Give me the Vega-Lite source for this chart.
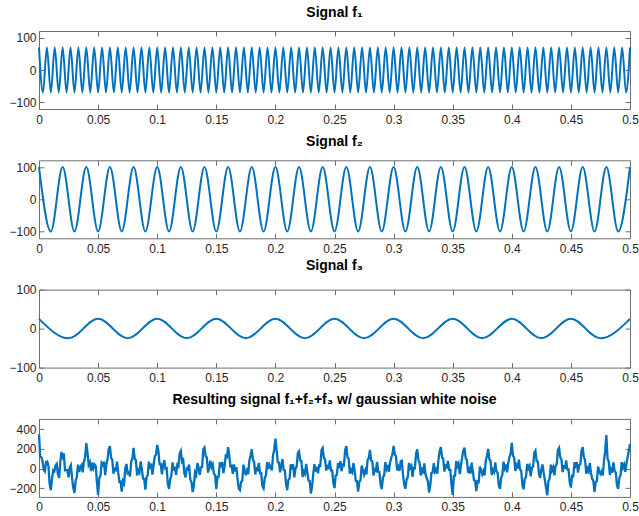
{
"$schema": "https://vega.github.io/schema/vega-lite/v6.json",
"padding": {"left": 8, "top": 5, "right": 2, "bottom": 5},
"bounds": "flush",
"spacing": 51.3,
"datasets": {
"f1": [{"t":0,"v":70},{"t":0.00333,"v":-70},{"t":0.00667,"v":70},{"t":0.01,"v":-70},{"t":0.01333,"v":70},{"t":0.01667,"v":-70},{"t":0.02,"v":70},{"t":0.02333,"v":-70},{"t":0.02667,"v":70},{"t":0.03,"v":-70},{"t":0.03333,"v":70},{"t":0.03667,"v":-70},{"t":0.04,"v":70},{"t":0.04333,"v":-70},{"t":0.04667,"v":70},{"t":0.05,"v":-70},{"t":0.05333,"v":70},{"t":0.05667,"v":-70},{"t":0.06,"v":70},{"t":0.06333,"v":-70},{"t":0.06667,"v":70},{"t":0.07,"v":-70},{"t":0.07333,"v":70},{"t":0.07667,"v":-70},{"t":0.08,"v":70},{"t":0.08333,"v":-70},{"t":0.08667,"v":70},{"t":0.09,"v":-70},{"t":0.09333,"v":70},{"t":0.09667,"v":-70},{"t":0.1,"v":70},{"t":0.10333,"v":-70},{"t":0.10667,"v":70},{"t":0.11,"v":-70},{"t":0.11333,"v":70},{"t":0.11667,"v":-70},{"t":0.12,"v":70},{"t":0.12333,"v":-70},{"t":0.12667,"v":70},{"t":0.13,"v":-70},{"t":0.13333,"v":70},{"t":0.13667,"v":-70},{"t":0.14,"v":70},{"t":0.14333,"v":-70},{"t":0.14667,"v":70},{"t":0.15,"v":-70},{"t":0.15333,"v":70},{"t":0.15667,"v":-70},{"t":0.16,"v":70},{"t":0.16333,"v":-70},{"t":0.16667,"v":70},{"t":0.17,"v":-70},{"t":0.17333,"v":70},{"t":0.17667,"v":-70},{"t":0.18,"v":70},{"t":0.18333,"v":-70},{"t":0.18667,"v":70},{"t":0.19,"v":-70},{"t":0.19333,"v":70},{"t":0.19667,"v":-70},{"t":0.2,"v":70},{"t":0.20333,"v":-70},{"t":0.20667,"v":70},{"t":0.21,"v":-70},{"t":0.21333,"v":70},{"t":0.21667,"v":-70},{"t":0.22,"v":70},{"t":0.22333,"v":-70},{"t":0.22667,"v":70},{"t":0.23,"v":-70},{"t":0.23333,"v":70},{"t":0.23667,"v":-70},{"t":0.24,"v":70},{"t":0.24333,"v":-70},{"t":0.24667,"v":70},{"t":0.25,"v":-70},{"t":0.25333,"v":70},{"t":0.25667,"v":-70},{"t":0.26,"v":70},{"t":0.26333,"v":-70},{"t":0.26667,"v":70},{"t":0.27,"v":-70},{"t":0.27333,"v":70},{"t":0.27667,"v":-70},{"t":0.28,"v":70},{"t":0.28333,"v":-70},{"t":0.28667,"v":70},{"t":0.29,"v":-70},{"t":0.29333,"v":70},{"t":0.29667,"v":-70},{"t":0.3,"v":70},{"t":0.30333,"v":-70},{"t":0.30667,"v":70},{"t":0.31,"v":-70},{"t":0.31333,"v":70},{"t":0.31667,"v":-70},{"t":0.32,"v":70},{"t":0.32333,"v":-70},{"t":0.32667,"v":70},{"t":0.33,"v":-70},{"t":0.33333,"v":70},{"t":0.33667,"v":-70},{"t":0.34,"v":70},{"t":0.34333,"v":-70},{"t":0.34667,"v":70},{"t":0.35,"v":-70},{"t":0.35333,"v":70},{"t":0.35667,"v":-70},{"t":0.36,"v":70},{"t":0.36333,"v":-70},{"t":0.36667,"v":70},{"t":0.37,"v":-70},{"t":0.37333,"v":70},{"t":0.37667,"v":-70},{"t":0.38,"v":70},{"t":0.38333,"v":-70},{"t":0.38667,"v":70},{"t":0.39,"v":-70},{"t":0.39333,"v":70},{"t":0.39667,"v":-70},{"t":0.4,"v":70},{"t":0.40333,"v":-70},{"t":0.40667,"v":70},{"t":0.41,"v":-70},{"t":0.41333,"v":70},{"t":0.41667,"v":-70},{"t":0.42,"v":70},{"t":0.42333,"v":-70},{"t":0.42667,"v":70},{"t":0.43,"v":-70},{"t":0.43333,"v":70},{"t":0.43667,"v":-70},{"t":0.44,"v":70},{"t":0.44333,"v":-70},{"t":0.44667,"v":70},{"t":0.45,"v":-70},{"t":0.45333,"v":70},{"t":0.45667,"v":-70},{"t":0.46,"v":70},{"t":0.46333,"v":-70},{"t":0.46667,"v":70},{"t":0.47,"v":-70},{"t":0.47333,"v":70},{"t":0.47667,"v":-70},{"t":0.48,"v":70},{"t":0.48333,"v":-70},{"t":0.48667,"v":70},{"t":0.49,"v":-70},{"t":0.49333,"v":70},{"t":0.49667,"v":-70},{"t":0.5,"v":70}],
"f2": [{"t":0,"v":100},{"t":0.01,"v":-100},{"t":0.02,"v":100},{"t":0.03,"v":-100},{"t":0.04,"v":100},{"t":0.05,"v":-100},{"t":0.06,"v":100},{"t":0.07,"v":-100},{"t":0.08,"v":100},{"t":0.09,"v":-100},{"t":0.1,"v":100},{"t":0.11,"v":-100},{"t":0.12,"v":100},{"t":0.13,"v":-100},{"t":0.14,"v":100},{"t":0.15,"v":-100},{"t":0.16,"v":100},{"t":0.17,"v":-100},{"t":0.18,"v":100},{"t":0.19,"v":-100},{"t":0.2,"v":100},{"t":0.21,"v":-100},{"t":0.22,"v":100},{"t":0.23,"v":-100},{"t":0.24,"v":100},{"t":0.25,"v":-100},{"t":0.26,"v":100},{"t":0.27,"v":-100},{"t":0.28,"v":100},{"t":0.29,"v":-100},{"t":0.3,"v":100},{"t":0.31,"v":-100},{"t":0.32,"v":100},{"t":0.33,"v":-100},{"t":0.34,"v":100},{"t":0.35,"v":-100},{"t":0.36,"v":100},{"t":0.37,"v":-100},{"t":0.38,"v":100},{"t":0.39,"v":-100},{"t":0.4,"v":100},{"t":0.41,"v":-100},{"t":0.42,"v":100},{"t":0.43,"v":-100},{"t":0.44,"v":100},{"t":0.45,"v":-100},{"t":0.46,"v":100},{"t":0.47,"v":-100},{"t":0.48,"v":100},{"t":0.49,"v":-100},{"t":0.5,"v":100}],
"f3": [{"t":0,"v":25},{"t":0.025,"v":-25},{"t":0.05,"v":25},{"t":0.075,"v":-25},{"t":0.1,"v":25},{"t":0.125,"v":-25},{"t":0.15,"v":25},{"t":0.175,"v":-25},{"t":0.2,"v":25},{"t":0.225,"v":-25},{"t":0.25,"v":25},{"t":0.275,"v":-25},{"t":0.3,"v":25},{"t":0.325,"v":-25},{"t":0.35,"v":25},{"t":0.375,"v":-25},{"t":0.4,"v":25},{"t":0.425,"v":-25},{"t":0.45,"v":25},{"t":0.475,"v":-25},{"t":0.5,"v":25}],
"f4": [{"t":0,"v":350},{"t":0.001,"v":121},{"t":0.002,"v":114},{"t":0.003,"v":75},{"t":0.004,"v":-14},{"t":0.005,"v":-30},{"t":0.006,"v":64},{"t":0.007,"v":69},{"t":0.008,"v":24},{"t":0.009,"v":-156},{"t":0.01,"v":-222},{"t":0.011,"v":-107},{"t":0.012,"v":-18},{"t":0.013,"v":-29},{"t":0.014,"v":31},{"t":0.015,"v":47},{"t":0.016,"v":-56},{"t":0.017,"v":-96},{"t":0.018,"v":58},{"t":0.019,"v":168},{"t":0.02,"v":120},{"t":0.021,"v":154},{"t":0.022,"v":-19},{"t":0.023,"v":-17},{"t":0.024,"v":-16},{"t":0.025,"v":-90},{"t":0.026,"v":11},{"t":0.027,"v":34},{"t":0.028,"v":-103},{"t":0.029,"v":-198},{"t":0.03,"v":-250},{"t":0.031,"v":-124},{"t":0.032,"v":-90},{"t":0.033,"v":39},{"t":0.034,"v":-35},{"t":0.035,"v":12},{"t":0.036,"v":35},{"t":0.037,"v":-39},{"t":0.038,"v":66},{"t":0.039,"v":116},{"t":0.04,"v":258},{"t":0.041,"v":167},{"t":0.042,"v":38},{"t":0.043,"v":63},{"t":0.044,"v":-28},{"t":0.045,"v":60},{"t":0.046,"v":3},{"t":0.047,"v":41},{"t":0.048,"v":25},{"t":0.049,"v":-141},{"t":0.05,"v":-270},{"t":0.051,"v":-96},{"t":0.052,"v":-75},{"t":0.053,"v":56},{"t":0.054,"v":38},{"t":0.055,"v":70},{"t":0.056,"v":-68},{"t":0.057,"v":43},{"t":0.058,"v":93},{"t":0.059,"v":197},{"t":0.06,"v":228},{"t":0.061,"v":111},{"t":0.062,"v":86},{"t":0.063,"v":-54},{"t":0.064,"v":10},{"t":0.065,"v":-28},{"t":0.066,"v":70},{"t":0.067,"v":-41},{"t":0.068,"v":-135},{"t":0.069,"v":-134},{"t":0.07,"v":-235},{"t":0.071,"v":-128},{"t":0.072,"v":-153},{"t":0.073,"v":-1},{"t":0.074,"v":46},{"t":0.075,"v":-50},{"t":0.076,"v":-41},{"t":0.077,"v":-82},{"t":0.078,"v":71},{"t":0.079,"v":99},{"t":0.08,"v":210},{"t":0.081,"v":98},{"t":0.082,"v":83},{"t":0.083,"v":-71},{"t":0.084,"v":-21},{"t":0.085,"v":-43},{"t":0.086,"v":71},{"t":0.087,"v":-4},{"t":0.088,"v":-103},{"t":0.089,"v":-107},{"t":0.09,"v":-217},{"t":0.091,"v":-91},{"t":0.092,"v":-66},{"t":0.093,"v":69},{"t":0.094,"v":14},{"t":0.095,"v":30},{"t":0.096,"v":-64},{"t":0.097,"v":45},{"t":0.098,"v":124},{"t":0.099,"v":141},{"t":0.1,"v":240},{"t":0.101,"v":181},{"t":0.102,"v":44},{"t":0.103,"v":45},{"t":0.104,"v":-59},{"t":0.105,"v":35},{"t":0.106,"v":84},{"t":0.107,"v":-1},{"t":0.108,"v":4},{"t":0.109,"v":-161},{"t":0.11,"v":-207},{"t":0.111,"v":-112},{"t":0.112,"v":-73},{"t":0.113,"v":61},{"t":0.114,"v":-19},{"t":0.115,"v":17},{"t":0.116,"v":-66},{"t":0.117,"v":39},{"t":0.118,"v":23},{"t":0.119,"v":153},{"t":0.12,"v":180},{"t":0.121,"v":69},{"t":0.122,"v":86},{"t":0.123,"v":-52},{"t":0.124,"v":-91},{"t":0.125,"v":0},{"t":0.126,"v":-9},{"t":0.127,"v":39},{"t":0.128,"v":-113},{"t":0.129,"v":-138},{"t":0.13,"v":-240},{"t":0.131,"v":-179},{"t":0.132,"v":-40},{"t":0.133,"v":-66},{"t":0.134,"v":55},{"t":0.135,"v":7},{"t":0.136,"v":-65},{"t":0.137,"v":11},{"t":0.138,"v":16},{"t":0.139,"v":196},{"t":0.14,"v":213},{"t":0.141,"v":122},{"t":0.142,"v":113},{"t":0.143,"v":-42},{"t":0.144,"v":12},{"t":0.145,"v":80},{"t":0.146,"v":13},{"t":0.147,"v":41},{"t":0.148,"v":-55},{"t":0.149,"v":-66},{"t":0.15,"v":-210},{"t":0.151,"v":-86},{"t":0.152,"v":-85},{"t":0.153,"v":61},{"t":0.154,"v":33},{"t":0.155,"v":65},{"t":0.156,"v":-48},{"t":0.157,"v":23},{"t":0.158,"v":128},{"t":0.159,"v":117},{"t":0.16,"v":218},{"t":0.161,"v":126},{"t":0.162,"v":21},{"t":0.163,"v":26},{"t":0.164,"v":-55},{"t":0.165,"v":42},{"t":0.166,"v":-30},{"t":0.167,"v":14},{"t":0.168,"v":-110},{"t":0.169,"v":-204},{"t":0.17,"v":-220},{"t":0.171,"v":-138},{"t":0.172,"v":-123},{"t":0.173,"v":39},{"t":0.174,"v":-19},{"t":0.175,"v":-70},{"t":0.176,"v":-21},{"t":0.177,"v":-57},{"t":0.178,"v":81},{"t":0.179,"v":134},{"t":0.18,"v":195},{"t":0.181,"v":88},{"t":0.182,"v":68},{"t":0.183,"v":-61},{"t":0.184,"v":14},{"t":0.185,"v":-28},{"t":0.186,"v":56},{"t":0.187,"v":-49},{"t":0.188,"v":-48},{"t":0.189,"v":-177},{"t":0.19,"v":-202},{"t":0.191,"v":-96},{"t":0.192,"v":-71},{"t":0.193,"v":64},{"t":0.194,"v":-6},{"t":0.195,"v":40},{"t":0.196,"v":11},{"t":0.197,"v":-20},{"t":0.198,"v":134},{"t":0.199,"v":191},{"t":0.2,"v":305},{"t":0.201,"v":191},{"t":0.202,"v":64},{"t":0.203,"v":60},{"t":0.204,"v":-39},{"t":0.205,"v":30},{"t":0.206,"v":94},{"t":0.207,"v":-16},{"t":0.208,"v":-21},{"t":0.209,"v":-156},{"t":0.21,"v":-222},{"t":0.211,"v":-117},{"t":0.212,"v":-103},{"t":0.213,"v":41},{"t":0.214,"v":11},{"t":0.215,"v":42},{"t":0.216,"v":-91},{"t":0.217,"v":-1},{"t":0.218,"v":18},{"t":0.219,"v":158},{"t":0.22,"v":175},{"t":0.221,"v":79},{"t":0.222,"v":76},{"t":0.223,"v":-87},{"t":0.224,"v":-31},{"t":0.225,"v":-55},{"t":0.226,"v":46},{"t":0.227,"v":-36},{"t":0.228,"v":-123},{"t":0.229,"v":-128},{"t":0.23,"v":-255},{"t":0.231,"v":-184},{"t":0.232,"v":-60},{"t":0.233,"v":44},{"t":0.234,"v":-30},{"t":0.235,"v":17},{"t":0.236,"v":-50},{"t":0.237,"v":31},{"t":0.238,"v":26},{"t":0.239,"v":186},{"t":0.24,"v":208},{"t":0.241,"v":107},{"t":0.242,"v":93},{"t":0.243,"v":-22},{"t":0.244,"v":37},{"t":0.245,"v":-5},{"t":0.246,"v":83},{"t":0.247,"v":-19},{"t":0.248,"v":-20},{"t":0.249,"v":-146},{"t":0.25,"v":-200},{"t":0.251,"v":-71},{"t":0.252,"v":-65},{"t":0.253,"v":56},{"t":0.254,"v":3},{"t":0.255,"v":75},{"t":0.256,"v":-28},{"t":0.257,"v":38},{"t":0.258,"v":33},{"t":0.259,"v":187},{"t":0.26,"v":228},{"t":0.261,"v":116},{"t":0.262,"v":96},{"t":0.263,"v":-54},{"t":0.264,"v":-15},{"t":0.265,"v":-38},{"t":0.266,"v":55},{"t":0.267,"v":-21},{"t":0.268,"v":-125},{"t":0.269,"v":-129},{"t":0.27,"v":-235},{"t":0.271,"v":-138},{"t":0.272,"v":-118},{"t":0.273,"v":29},{"t":0.274,"v":-19},{"t":0.275,"v":-65},{"t":0.276,"v":-21},{"t":0.277,"v":-62},{"t":0.278,"v":86},{"t":0.279,"v":104},{"t":0.28,"v":190},{"t":0.281,"v":83},{"t":0.282,"v":73},{"t":0.283,"v":-71},{"t":0.284,"v":-11},{"t":0.285,"v":-23},{"t":0.286,"v":66},{"t":0.287,"v":-34},{"t":0.288,"v":-38},{"t":0.289,"v":-162},{"t":0.29,"v":-212},{"t":0.291,"v":-91},{"t":0.292,"v":-71},{"t":0.293,"v":64},{"t":0.294,"v":-1},{"t":0.295,"v":35},{"t":0.296,"v":-34},{"t":0.297,"v":60},{"t":0.298,"v":109},{"t":0.299,"v":146},{"t":0.3,"v":230},{"t":0.301,"v":141},{"t":0.302,"v":124},{"t":0.303,"v":-20},{"t":0.304,"v":16},{"t":0.305,"v":-25},{"t":0.306,"v":74},{"t":0.307,"v":79},{"t":0.308,"v":-71},{"t":0.309,"v":-166},{"t":0.31,"v":-207},{"t":0.311,"v":-112},{"t":0.312,"v":-88},{"t":0.313,"v":56},{"t":0.314,"v":6},{"t":0.315,"v":27},{"t":0.316,"v":-86},{"t":0.317,"v":4},{"t":0.318,"v":3},{"t":0.319,"v":148},{"t":0.32,"v":195},{"t":0.321,"v":84},{"t":0.322,"v":56},{"t":0.323,"v":-72},{"t":0.324,"v":-16},{"t":0.325,"v":-50},{"t":0.326,"v":51},{"t":0.327,"v":-61},{"t":0.328,"v":-98},{"t":0.329,"v":-133},{"t":0.33,"v":-245},{"t":0.331,"v":-174},{"t":0.332,"v":-45},{"t":0.333,"v":-41},{"t":0.334,"v":55},{"t":0.335,"v":-33},{"t":0.336,"v":-10},{"t":0.337,"v":-54},{"t":0.338,"v":96},{"t":0.339,"v":181},{"t":0.34,"v":218},{"t":0.341,"v":112},{"t":0.342,"v":98},{"t":0.343,"v":-32},{"t":0.344,"v":42},{"t":0.345,"v":0},{"t":0.346,"v":78},{"t":0.347,"v":-14},{"t":0.348,"v":-15},{"t":0.349,"v":-171},{"t":0.35,"v":-270},{"t":0.351,"v":-76},{"t":0.352,"v":-75},{"t":0.353,"v":76},{"t":0.354,"v":23},{"t":0.355,"v":50},{"t":0.356,"v":-58},{"t":0.357,"v":28},{"t":0.358,"v":113},{"t":0.359,"v":182},{"t":0.36,"v":213},{"t":0.361,"v":101},{"t":0.362,"v":91},{"t":0.363,"v":-44},{"t":0.364,"v":-10},{"t":0.365,"v":-53},{"t":0.366,"v":60},{"t":0.367,"v":-26},{"t":0.368,"v":-120},{"t":0.369,"v":-124},{"t":0.37,"v":-230},{"t":0.371,"v":-133},{"t":0.372,"v":-138},{"t":0.373,"v":19},{"t":0.374,"v":-14},{"t":0.375,"v":-60},{"t":0.376,"v":-26},{"t":0.377,"v":-72},{"t":0.378,"v":81},{"t":0.379,"v":129},{"t":0.38,"v":200},{"t":0.381,"v":93},{"t":0.382,"v":78},{"t":0.383,"v":-66},{"t":0.384,"v":-16},{"t":0.385,"v":-38},{"t":0.386,"v":61},{"t":0.387,"v":-29},{"t":0.388,"v":-43},{"t":0.389,"v":-172},{"t":0.39,"v":-207},{"t":0.391,"v":-96},{"t":0.392,"v":-66},{"t":0.393,"v":69},{"t":0.394,"v":4},{"t":0.395,"v":40},{"t":0.396,"v":-39},{"t":0.397,"v":55},{"t":0.398,"v":114},{"t":0.399,"v":151},{"t":0.4,"v":260},{"t":0.401,"v":131},{"t":0.402,"v":109},{"t":0.403,"v":-25},{"t":0.404,"v":31},{"t":0.405,"v":0},{"t":0.406,"v":89},{"t":0.407,"v":-11},{"t":0.408,"v":-26},{"t":0.409,"v":-171},{"t":0.41,"v":-212},{"t":0.411,"v":-107},{"t":0.412,"v":-88},{"t":0.413,"v":46},{"t":0.414,"v":1},{"t":0.415,"v":27},{"t":0.416,"v":-81},{"t":0.417,"v":9},{"t":0.418,"v":18},{"t":0.419,"v":158},{"t":0.42,"v":180},{"t":0.421,"v":74},{"t":0.422,"v":71},{"t":0.423,"v":-57},{"t":0.424,"v":-96},{"t":0.425,"v":-5},{"t":0.426,"v":41},{"t":0.427,"v":-46},{"t":0.428,"v":-118},{"t":0.429,"v":-198},{"t":0.43,"v":-275},{"t":0.431,"v":-129},{"t":0.432,"v":-105},{"t":0.433,"v":39},{"t":0.434,"v":-20},{"t":0.435,"v":12},{"t":0.436,"v":-70},{"t":0.437,"v":26},{"t":0.438,"v":41},{"t":0.439,"v":186},{"t":0.44,"v":208},{"t":0.441,"v":112},{"t":0.442,"v":93},{"t":0.443,"v":-37},{"t":0.444,"v":32},{"t":0.445,"v":-5},{"t":0.446,"v":83},{"t":0.447,"v":-9},{"t":0.448,"v":-10},{"t":0.449,"v":-141},{"t":0.45,"v":-195},{"t":0.451,"v":-76},{"t":0.452,"v":-80},{"t":0.453,"v":61},{"t":0.454,"v":28},{"t":0.455,"v":65},{"t":0.456,"v":-43},{"t":0.457,"v":33},{"t":0.458,"v":43},{"t":0.459,"v":182},{"t":0.46,"v":218},{"t":0.461,"v":111},{"t":0.462,"v":86},{"t":0.463,"v":-54},{"t":0.464,"v":0},{"t":0.465,"v":-28},{"t":0.466,"v":55},{"t":0.467,"v":-46},{"t":0.468,"v":-105},{"t":0.469,"v":-129},{"t":0.47,"v":-240},{"t":0.471,"v":-138},{"t":0.472,"v":-128},{"t":0.473,"v":19},{"t":0.474,"v":-24},{"t":0.475,"v":-55},{"t":0.476,"v":-31},{"t":0.477,"v":-72},{"t":0.478,"v":86},{"t":0.479,"v":174},{"t":0.48,"v":340},{"t":0.481,"v":98},{"t":0.482,"v":73},{"t":0.483,"v":-66},{"t":0.484,"v":-11},{"t":0.485,"v":-43},{"t":0.486,"v":61},{"t":0.487,"v":-24},{"t":0.488,"v":-43},{"t":0.489,"v":-172},{"t":0.49,"v":-207},{"t":0.491,"v":-96},{"t":0.492,"v":-71},{"t":0.493,"v":64},{"t":0.494,"v":9},{"t":0.495,"v":40},{"t":0.496,"v":-34},{"t":0.497,"v":50},{"t":0.498,"v":114},{"t":0.499,"v":181},{"t":0.5,"v":250}]
},
"vconcat": [
{
"width": 591, "height": 78, "title": "Signal f₁", "data": {"name": "f1"},
"layer": [
{"mark": {"type": "line", "interpolate": "monotone"},
 "encoding": {
  "x": {"field": "t", "type": "quantitative", "scale": {"domain": [0, 0.5], "nice": false, "zero": false}, "axis": {"orient": "bottom", "values": [0,0.05,0.1,0.15,0.2,0.25,0.3,0.35,0.4,0.45,0.5], "format": "~g", "title": null}},
  "y": {"field": "v", "type": "quantitative", "scale": {"domain": [-121, 121], "nice": false, "zero": false}, "axis": {"orient": "left", "values": [-100,0,100], "title": null, "labelExpr": "replace(datum.label, '-', '−')"}}}},
{"mark": {"type": "line", "opacity": 0},
 "encoding": {
  "x": {"field": "t", "type": "quantitative", "axis": {"orient": "top", "values": [0,0.05,0.1,0.15,0.2,0.25,0.3,0.35,0.4,0.45,0.5], "labels": false, "title": null}},
  "y": {"field": "v", "type": "quantitative", "axis": {"orient": "right", "values": [-100,0,100], "labels": false, "title": null}}}}
],
"resolve": {"axis": {"x": "independent", "y": "independent"}}
},
{
"width": 591, "height": 78, "title": "Signal f₂", "data": {"name": "f2"},
"layer": [
{"mark": {"type": "line", "interpolate": "monotone"},
 "encoding": {
  "x": {"field": "t", "type": "quantitative", "scale": {"domain": [0, 0.5], "nice": false, "zero": false}, "axis": {"orient": "bottom", "values": [0,0.05,0.1,0.15,0.2,0.25,0.3,0.35,0.4,0.45,0.5], "format": "~g", "title": null}},
  "y": {"field": "v", "type": "quantitative", "scale": {"domain": [-121, 121], "nice": false, "zero": false}, "axis": {"orient": "left", "values": [-100,0,100], "title": null, "labelExpr": "replace(datum.label, '-', '−')"}}}},
{"mark": {"type": "line", "opacity": 0},
 "encoding": {
  "x": {"field": "t", "type": "quantitative", "axis": {"orient": "top", "values": [0,0.05,0.1,0.15,0.2,0.25,0.3,0.35,0.4,0.45,0.5], "labels": false, "title": null}},
  "y": {"field": "v", "type": "quantitative", "axis": {"orient": "right", "values": [-100,0,100], "labels": false, "title": null}}}}
],
"resolve": {"axis": {"x": "independent", "y": "independent"}}
},
{
"width": 591, "height": 78, "title": "Signal f₃", "data": {"name": "f3"},
"layer": [
{"mark": {"type": "line", "interpolate": "monotone"},
 "encoding": {
  "x": {"field": "t", "type": "quantitative", "scale": {"domain": [0, 0.5], "nice": false, "zero": false}, "axis": {"orient": "bottom", "values": [0,0.05,0.1,0.15,0.2,0.25,0.3,0.35,0.4,0.45,0.5], "format": "~g", "title": null}},
  "y": {"field": "v", "type": "quantitative", "scale": {"domain": [-100, 100], "nice": false, "zero": false}, "axis": {"orient": "left", "values": [-100,0,100], "title": null, "labelExpr": "replace(datum.label, '-', '−')"}}}},
{"mark": {"type": "line", "opacity": 0},
 "encoding": {
  "x": {"field": "t", "type": "quantitative", "axis": {"orient": "top", "values": [0,0.05,0.1,0.15,0.2,0.25,0.3,0.35,0.4,0.45,0.5], "labels": false, "title": null}},
  "y": {"field": "v", "type": "quantitative", "axis": {"orient": "right", "values": [-100,0,100], "labels": false, "title": null}}}}
],
"resolve": {"axis": {"x": "independent", "y": "independent"}}
},
{
"width": 591, "height": 78, "title": "Resulting signal f₁+f₂+f₃ w/ gaussian white noise", "data": {"name": "f4"},
"layer": [
{"mark": {"type": "line", "strokeWidth": 2.3},
 "encoding": {
  "x": {"field": "t", "type": "quantitative", "scale": {"domain": [0, 0.5], "nice": false, "zero": false}, "axis": {"orient": "bottom", "values": [0,0.05,0.1,0.15,0.2,0.25,0.3,0.35,0.4,0.45,0.5], "format": "~g", "title": null}},
  "y": {"field": "v", "type": "quantitative", "scale": {"domain": [-290, 505], "nice": false, "zero": false}, "axis": {"orient": "left", "values": [-200,0,200,400], "title": null, "labelExpr": "replace(datum.label, '-', '−')"}}}},
{"mark": {"type": "line", "opacity": 0},
 "encoding": {
  "x": {"field": "t", "type": "quantitative", "axis": {"orient": "top", "values": [0,0.05,0.1,0.15,0.2,0.25,0.3,0.35,0.4,0.45,0.5], "labels": false, "title": null}},
  "y": {"field": "v", "type": "quantitative", "axis": {"orient": "right", "values": [-200,0,200,400], "labels": false, "title": null}}}}
],
"resolve": {"axis": {"x": "independent", "y": "independent"}}
}
],
"config": {
 "font": "Liberation Sans",
 "view": {"stroke": null},
 "axis": {"grid": false, "domainColor": "#6e6e6e", "domainWidth": 1, "tickColor": "#6e6e6e", "tickWidth": 1, "tickSize": -5, "labelColor": "#262626", "labelFont": "Liberation Sans", "labelFontSize": 12, "labelFlush": false, "labelOverlap": false, "labelBound": false, "labelAngle": 0},
 "axisBottom": {"labelPadding": 10},
 "axisLeft": {"labelPadding": 8},
 "title": {"font": "Liberation Sans", "fontSize": 14, "fontWeight": "bold", "color": "#000000", "anchor": "middle", "baseline": "alphabetic", "offset": 11, "frame": "group"},
 "line": {"color": "#0072BD", "strokeWidth": 2}
}
}
